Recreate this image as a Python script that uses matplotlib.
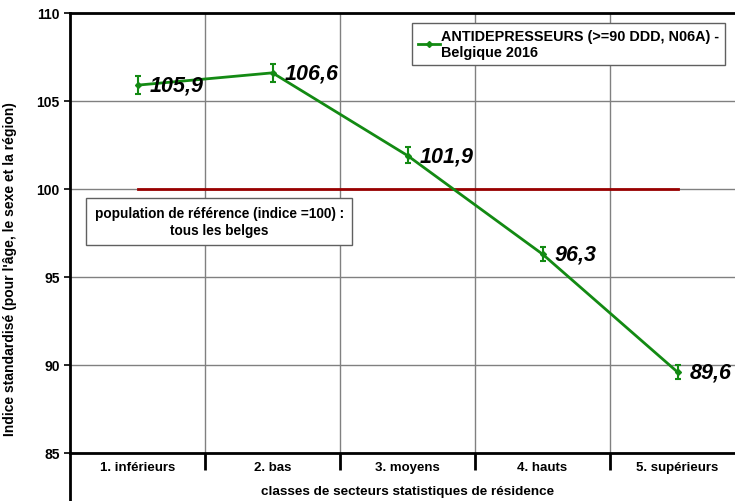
import matplotlib
matplotlib.use("Agg")
import matplotlib.pyplot as plt
from matplotlib.lines import Line2D

plt.rcParams['font.family'] = ['Liberation Sans', 'DejaVu Sans']

categories = ['1. inférieurs', '2. bas', '3. moyens', '4. hauts', '5. supérieurs']
values = [105.9, 106.6, 101.9, 96.3, 89.6]
ci_low = [105.4, 106.1, 101.5, 95.9, 89.2]
ci_high = [106.4, 107.1, 102.4, 96.7, 90.0]
reference = 100
series_label = 'ANTIDEPRESSEURS (>=90 DDD, N06A) -\nBelgique 2016'
green = '#138a13'

fig = plt.figure(figsize=(7.35, 5.02), dpi=100)
ax = fig.add_axes([70 / 735, 48 / 502, 675 / 735, 440 / 502])

x = list(range(len(categories)))
err = [[v - lo for v, lo in zip(values, ci_low)],
       [hi - v for v, hi in zip(values, ci_high)]]

ax.plot([x[0], x[-1]], [reference, reference], color='#990000', lw=2, zorder=2)
ax.errorbar(x, values, yerr=err, color=green, lw=2, marker='D', ms=3,
            elinewidth=1.5, capsize=2.5, capthick=1.5, zorder=3)

for xi, v in zip(x, values):
    ax.text(xi + 0.09, v, f'{v:.1f}'.replace('.', ','), fontsize=15.5,
            fontweight='bold', fontstyle='italic', va='center', ha='left', zorder=4)

ax.set_xlim(-0.5, len(categories) - 0.5)
ax.set_ylim(85, 110)
ax.set_yticks([85, 90, 95, 100, 105, 110])
ax.tick_params(axis='y', labelsize=10, length=4, width=1.2, direction='out')
for lab in ax.get_yticklabels():
    lab.set_fontweight('bold')

ax.set_xticks(x)
ax.set_xticklabels(categories, fontsize=9.5, fontweight='bold')
ax.tick_params(axis='x', which='major', length=0, pad=6)
ax.set_xticks([i + 0.5 for i in x[:-1]], minor=True)
ax.tick_params(axis='x', which='minor', length=12, width=2, direction='out')

ax.grid(True, axis='y', color='#808080', lw=1)
ax.grid(True, axis='x', which='minor', color='#808080', lw=1)
ax.set_axisbelow(True)

for s in ['left', 'bottom', 'top']:
    ax.spines[s].set_linewidth(2)
ax.spines['right'].set_visible(False)
ax.plot([0, 0], [0, -0.12], transform=ax.transAxes, color='black', lw=2, clip_on=False)

ax.set_xlabel('classes de secteurs statistiques de résidence', fontsize=9.7,
              fontweight='bold')
ax.xaxis.set_label_coords(338 / 675, -32 / 440)
ax.set_ylabel("Indice standardisé (pour l'âge, le sexe et la région)", fontsize=10,
              fontweight='bold')
ax.yaxis.set_label_coords(-53 / 675, 185 / 440)

ax.text(0.605, 98.15, 'population de référence (indice =100) :\ntous les belges',
        fontsize=9.8, fontweight='bold', ha='center', va='center', zorder=5,
        bbox=dict(boxstyle='square,pad=0.6', fc='white', ec='#606060', lw=1))

handle = Line2D([], [], color=green, lw=2, marker='D', ms=3)
leg = ax.legend([handle], [series_label], loc='upper right',
                bbox_to_anchor=(655 / 675, 430 / 440), borderaxespad=0,
                prop={'size': 10.4, 'weight': 'bold'}, handlelength=1.5,
                handletextpad=0.1, fancybox=False, framealpha=1, borderpad=0.4)
leg.get_frame().set_edgecolor('#606060')
leg.get_frame().set_linewidth(1)

fig.savefig('out.png', dpi=100)
